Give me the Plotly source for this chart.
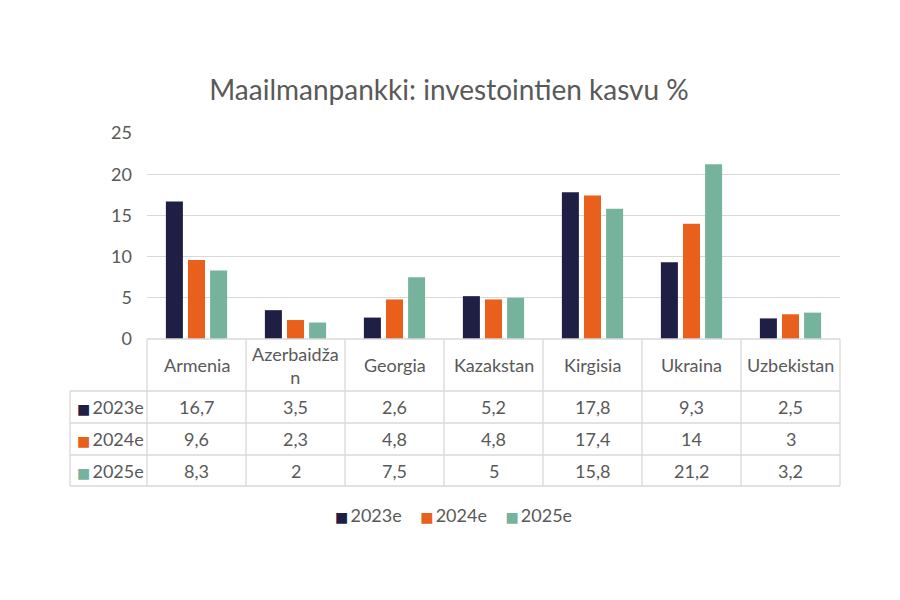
import plotly.graph_objects as go

categories = ["Armenia", "Azerbaidžan", "Georgia", "Kazakstan", "Kirgisia", "Ukraina", "Uzbekistan"]
header_labels = ["Armenia", "Azerbaidža<br>n", "Georgia", "Kazakstan", "Kirgisia", "Ukraina", "Uzbekistan"]
series_names = ["2023e", "2024e", "2025e"]
values_2023 = [16.7, 3.5, 2.6, 5.2, 17.8, 9.3, 2.5]
values_2024 = [9.6, 2.3, 4.8, 4.8, 17.4, 14, 3]
values_2025 = [8.3, 2, 7.5, 5, 15.8, 21.2, 3.2]
series_values = [values_2023, values_2024, values_2025]
colors = ["#1F1F45", "#E8601C", "#76B39D"]
title = "Maailmanpankki: investointien kasvu %"

W, H = 900, 600
OFF = 8  # page body margin
def px(x):
    return (x - OFF) / W
def py(y):
    return 1 - (y - OFF) / H

font_family = "Lato, 'Open Sans', sans-serif"
txt_color = "#595959"
line_color = "#D9D9D9"
FS = 18

fig = go.Figure()
for name, vals, col in zip(series_names, series_values, colors):
    fig.add_trace(go.Bar(x=categories, y=vals, name=name, marker_color=col,
                         marker_line_width=0, showlegend=False))

x0, x1 = 147, 840
plot_top, plot_bot = 133, 339
rows_y = [391, 423, 455, 486]
table_left = 70
ncat = len(categories)
colw = (x1 - x0) / ncat

lw = 1.3
shapes = []
shapes.append(dict(type="line", xref="paper", yref="paper", x0=px(x0), x1=px(x1), y0=py(plot_bot), y1=py(plot_bot), line=dict(color=line_color, width=lw)))
for y in rows_y:
    shapes.append(dict(type="line", xref="paper", yref="paper", x0=px(table_left), x1=px(x1), y0=py(y), y1=py(y), line=dict(color=line_color, width=lw)))
for i in range(ncat + 1):
    xx = x0 + i * colw
    shapes.append(dict(type="line", xref="paper", yref="paper", x0=px(xx), x1=px(xx), y0=py(plot_bot), y1=py(rows_y[-1]), line=dict(color=line_color, width=lw)))
shapes.append(dict(type="line", xref="paper", yref="paper", x0=px(table_left), x1=px(table_left), y0=py(rows_y[0]), y1=py(rows_y[-1]), line=dict(color=line_color, width=lw)))

tfont = dict(size=FS, color=txt_color, family=font_family)

def marker(col):
    return f"<span style='color:{col};font-size:14px;font-family:DejaVu Sans'>■</span>&#8201;"

annotations = []
for cat, lab in zip(categories, header_labels):
    annotations.append(dict(x=cat, xref="x", y=py((plot_bot + rows_y[0]) / 2), yref="paper",
                            text=lab, showarrow=False, font=tfont,
                            xanchor="center", yanchor="middle"))
for r, (name, vals, col) in enumerate(zip(series_names, series_values, colors)):
    yc = py((rows_y[r] + rows_y[r + 1]) / 2)
    annotations.append(dict(x=px(table_left + 5), xref="paper", y=yc, yref="paper",
                            text=marker(col) + name, showarrow=False,
                            font=tfont, xanchor="left", yanchor="middle"))
    for cat, v in zip(categories, vals):
        annotations.append(dict(x=cat, xref="x", y=yc, yref="paper",
                                text=f"{v:g}".replace(".", ","), showarrow=False,
                                font=tfont, xanchor="center", yanchor="middle"))

legend_text = "&nbsp;&nbsp;&nbsp;&nbsp;".join(marker(c) + n for n, c in zip(series_names, colors))
annotations.append(dict(x=px(453), xref="paper", y=py(515), yref="paper", text=legend_text,
                        showarrow=False, font=tfont, xanchor="center", yanchor="middle"))

fig.update_layout(
    width=W, height=H,
    paper_bgcolor="white", plot_bgcolor="white",
    margin=dict(l=0, r=0, t=0, b=0, autoexpand=False),
    showlegend=False,
    title=dict(text=title, x=px(449), xanchor="center", y=py(90), yanchor="middle",
               font=dict(size=28, color=txt_color, family=font_family)),
    barmode="group", bargap=0.33, bargroupgap=0.23,
    xaxis=dict(domain=[px(x0), px(x1)], showticklabels=False, showgrid=False, zeroline=False,
               showline=False, ticks=""),
    yaxis=dict(domain=[py(plot_bot), py(plot_top)], range=[0, 25], dtick=5,
               showgrid=True, gridcolor=line_color, gridwidth=lw, zeroline=False,
               tickfont=tfont, ticks="", ticklabelstandoff=14),
    shapes=shapes, annotations=annotations,
)

fig.write_html("out.html")
